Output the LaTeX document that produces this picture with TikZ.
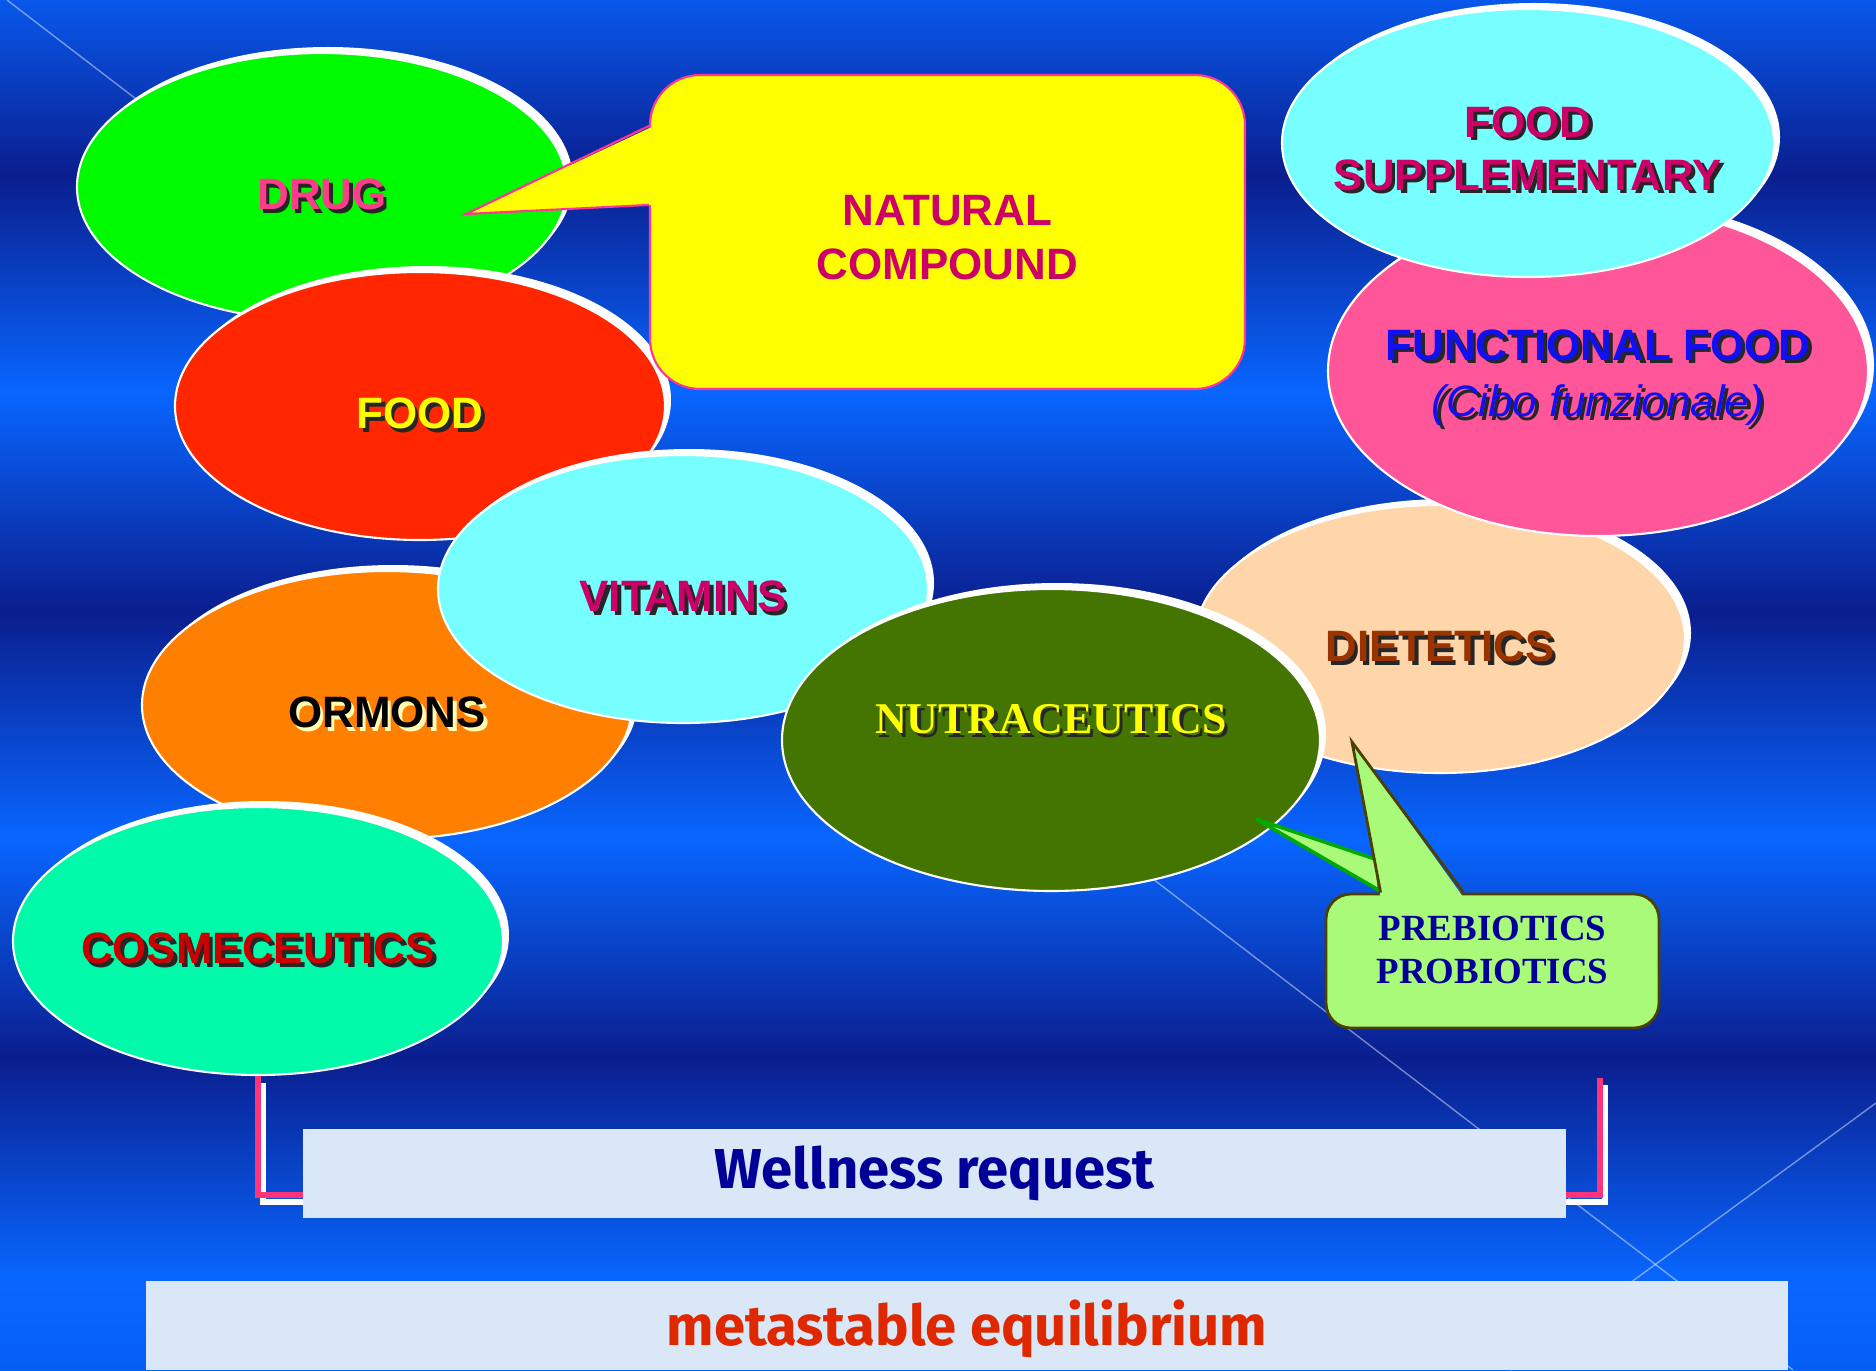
\documentclass[tikz,border=0pt]{standalone}
\usepackage{fontspec}
\setmainfont{Liberation Sans}
\newfontfamily\serifbold{Liberation Serif}
\newfontfamily\handfont{Fira Sans}
\usetikzlibrary{shapes.geometric,shadows}
\definecolor{slidetop}{RGB}{8,88,235}
\definecolor{slidebot}{RGB}{5,95,245}
\definecolor{slidedark}{RGB}{10,30,142}
\definecolor{slidebright}{RGB}{8,102,255}
\definecolor{drugcol}{RGB}{0,250,0}
\definecolor{drugtext}{RGB}{255,60,140}
\definecolor{foodcol}{RGB}{255,38,0}
\definecolor{natyellow}{RGB}{255,255,0}
\definecolor{natmagenta}{RGB}{204,0,102}
\definecolor{natedge}{RGB}{255,51,153}
\definecolor{ormcol}{RGB}{255,128,0}
\definecolor{vitcyan}{RGB}{119,255,255}
\definecolor{cosmcol}{RGB}{0,250,170}
\definecolor{cosmred}{RGB}{204,0,0}
\definecolor{dietcol}{RGB}{255,213,170}
\definecolor{dietbrown}{RGB}{153,51,0}
\definecolor{funcpink}{RGB}{255,85,153}
\definecolor{funcblue}{RGB}{16,16,240}
\definecolor{nutraolive}{RGB}{67,117,0}
\definecolor{procol}{RGB}{170,250,122}
\definecolor{proedge}{RGB}{77,64,0}
\definecolor{progreen}{RGB}{0,170,0}
\definecolor{navytext}{RGB}{0,0,153}
\definecolor{panelblue}{RGB}{218,231,247}
\definecolor{equilred}{RGB}{224,40,0}
\definecolor{bracketpink}{RGB}{255,51,119}
\pgfdeclareverticalshading{slidebg}{100bp}{color(0bp)=(slidebot); color(25bp)=(slidebot);
  color(28.4bp)=(slidebright); color(36.4bp)=(slidedark); color(44.4bp)=(slidebright);
  color(52.7bp)=(slidedark); color(60.7bp)=(slidebright); color(68.6bp)=(slidedark);
  color(75bp)=(slidetop); color(100bp)=(slidetop)}
\newcommand{\shtxt}[2][black!85]{\makebox[0pt][l]{\kern1pt\raisebox{-1pt}[0pt][0pt]{\color{#1}#2}}#2}

\begin{document}
\begin{tikzpicture}[
    blob/.style={ellipse, draw=white, line width=0.6pt, inner xsep=-2.5cm, inner ysep=-0.8cm,
      minimum width=4.9cm, minimum height=2.68cm, align=center,
      general shadow={fill=white, shadow xshift=0.06cm, shadow yshift=0.06cm},
      text height=0.45cm, text depth=0cm,
      font=\fontsize{12.5}{15}\selectfont\bfseries},
    natbox/.style={rectangle, rounded corners=0.5cm, fill=natyellow, draw=natedge,
      line width=0.6pt, minimum width=5.95cm, minimum height=3.14cm, align=center,
      text=natmagenta, font=\fontsize{12.5}{15.4}\selectfont\bfseries},
    probox/.style={rectangle, rounded corners=0.25cm, fill=procol, draw=proedge,
      line width=0.8pt, minimum width=3.33cm, minimum height=1.34cm, align=center,
      text=navytext, font=\fontsize{10.5}{12.1}\serifbold\bfseries},
    panel/.style={rectangle, fill=panelblue, inner sep=0pt, minimum width=12.63cm,
      minimum height=0.89cm, font=\handfont\bfseries\fontsize{16}{18}\selectfont},
    bracket/.style={draw=bracketpink, line width=1.7pt},
    deco/.style={draw=white, line width=0.4pt, opacity=0.45}]
    \useasboundingbox (0,0) rectangle (18.76,13.70);
    % background
    \fill[shading=slidebg] (0,0) rectangle (18.76,13.70);
    \draw[deco] (0.07,13.70) -- (17.93,0);
    \draw[deco] (18.76,2.67) -- (15.11,0);

    % drug, food and natural compound
    \node[blob, fill=drugcol, text=drugtext] (drug) at (3.22,11.83) {\shtxt{DRUG}};
    \node[blob, fill=foodcol, text=natyellow] (food) at (4.20,9.64) {\shtxt{FOOD}};
    \node[natbox] (natural) at (9.475,11.38) {\rule{0pt}{0.42cm}NATURAL\\COMPOUND};
    \coordinate (drugtip) at (4.66,11.56);
    \fill[natyellow] (drugtip) -- ([xshift=0.05cm,yshift=-0.52cm]natural.north west)
      -- ([xshift=0.05cm,yshift=-1.31cm]natural.north west) -- cycle;
    \draw[natedge, line width=0.6pt] ([yshift=-0.52cm]natural.north west) -- (drugtip)
      -- ([yshift=-1.31cm]natural.north west);

    % ormons, vitamins, cosmeceutics
    \node[blob, fill=ormcol, text=black] (ormons) at (3.87,6.65) {\shtxt[white!70!yellow]{ORMONS}};
    \node[blob, fill=vitcyan, text=natmagenta] (vitamins) at (6.83,7.81) {\shtxt{VITAMINS}};
    \node[blob, fill=cosmcol, text=cosmred] (cosm) at (2.58,4.29) {\shtxt{COSMECEUTICS}};

    % right side
    \node[blob, fill=dietcol, text=dietbrown] (diet) at (14.40,7.31) {\shtxt{DIETETICS}};
    \node[blob, fill=funcpink, text=funcblue, minimum width=5.40cm, minimum height=3.30cm,
      text height={}, text depth={}, font=\fontsize{12.5}{16}\selectfont] (func) at (15.98,9.99)
      {\rule{0pt}{0.44cm}\textbf{\shtxt{FUNCTIONAL FOOD}}\\\textit{\shtxt{(Cibo funzionale)}}};
    \node[blob, fill=vitcyan, text=natmagenta, minimum width=4.92cm, text height={},
      text depth={}] (supp) at (15.28,12.27) {\rule{0pt}{0.42cm}\shtxt{FOOD}\\\shtxt{SUPPLEMENTARY}};

    % nutraceutics
    \node[blob, fill=nutraolive, text=natyellow, minimum width=5.38cm, minimum height=3.02cm,
      text height={}, text depth=0.42cm, font=\fontsize{12.5}{15}\serifbold\bfseries] (nutra) at (10.51,6.30)
      {\shtxt{NUTRACEUTICS}};

    % prebiotics callout
    \node[probox, text depth=0.22cm] (pro) at (14.925,4.09) {PREBIOTICS\\PROBIOTICS};
    \coordinate (nutratip) at (12.56,5.51);
    \coordinate (diettip) at (13.52,6.28);
    \filldraw[fill=procol, draw=progreen, line width=1pt] (nutratip)
      -- ([xshift=0.52cm,yshift=0.33cm]pro.north west)
      -- ([xshift=0.55cm,yshift=0.02cm]pro.north west) -- cycle;
    \fill[procol] (diettip) -- ([xshift=0.56cm,yshift=-0.05cm]pro.north west)
      -- ([xshift=1.39cm,yshift=-0.05cm]pro.north west) -- cycle;
    \draw[proedge, line width=0.8pt] ([xshift=0.56cm]pro.north west) -- (diettip)
      -- ([xshift=1.39cm]pro.north west);

    % wellness bracket
    \coordinate (brR) at (16.00,2.92);
    \coordinate (brB) at (16.00,1.75);
    \draw[bracket, draw=white, transform canvas={shift={(0.05,-0.07)}}] (cosm.south) |- (brB) -- (brR);
    \draw[bracket] (cosm.south) |- (brB) -- (brR);
    \node[panel, text=navytext] (wellness) at (9.345,1.965) {Wellness request};
    \node[panel, text=equilred, minimum width=16.42cm, text depth=0.05cm] (equil) at (9.67,0.445) {metastable equilibrium};
\end{tikzpicture}
\end{document}
